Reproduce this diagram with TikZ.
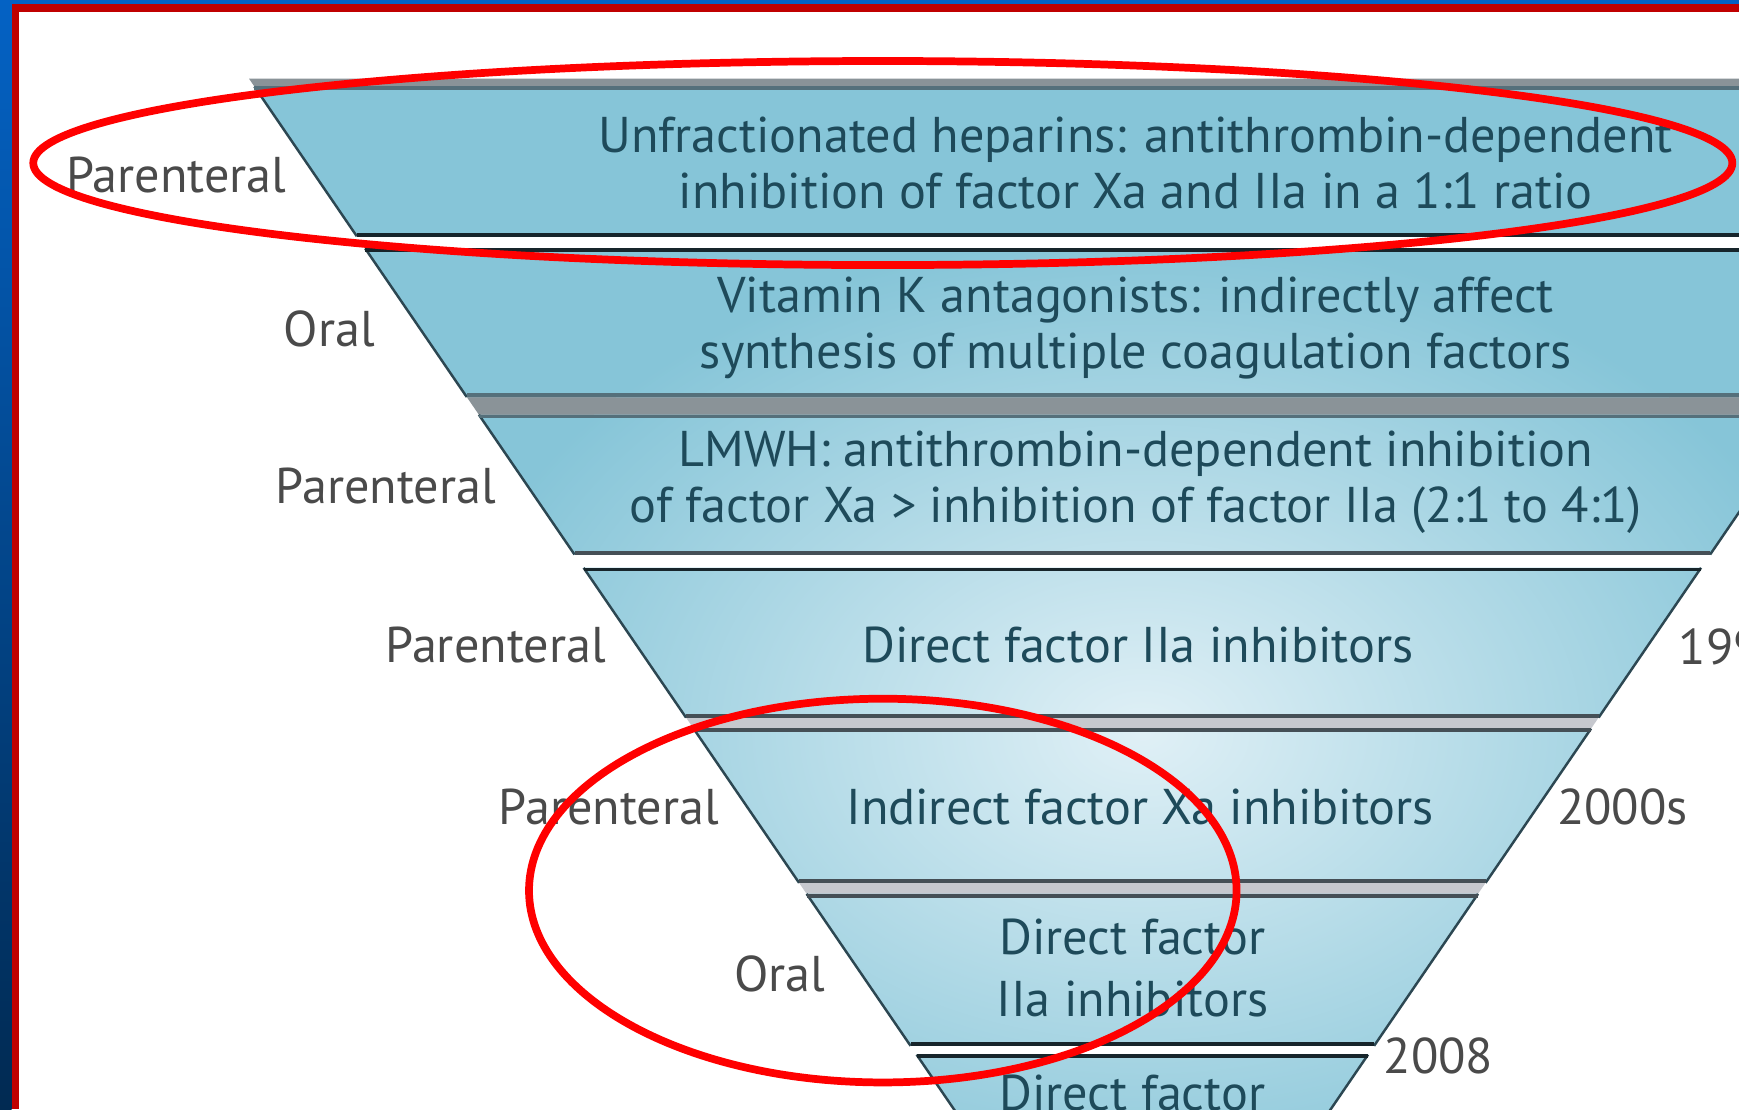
\documentclass[tikz,border=0pt]{standalone}
\usepackage{fontspec}
\setmainfont{PT Sans}
\usepackage{xcolor}
\definecolor{bandout}{HTML}{86C5D8}
\definecolor{bandin}{HTML}{E0F0F6}
\definecolor{bandtext}{HTML}{1E4A5A}
\definecolor{rim}{HTML}{17252B}
\definecolor{rimsoft}{HTML}{55707B}
\definecolor{rimgray}{HTML}{454F56}
\definecolor{sideline}{HTML}{2C4752}
\definecolor{gapgray}{HTML}{8A9398}
\definecolor{gaplight}{HTML}{C6C8CE}
\definecolor{routetext}{HTML}{4A4A4A}
\definecolor{framered}{HTML}{C00000}
\definecolor{slideblue}{HTML}{0462C4}
\definecolor{slidedeep}{HTML}{012A52}
\usepackage{tikz}

% one band of the funnel, top and bottom y given
\newcommand{\bandpath}[2]{({228+0.684*(#1-76)},#1) -- ({1832-0.684*(#1-76)},#1)
  -- ({1832-0.684*(#2-76)},#2) -- ({228+0.684*(#2-76)},#2) -- cycle}

\begin{document}
\begin{tikzpicture}[
  x=0.01109cm, y=-0.01109cm,
  font=\fontsize{14.3}{15.8}\selectfont,
  drug/.style={text=bandtext, align=center, inner sep=0pt},
  route/.style={text=routetext, inner sep=0pt},
  era/.style={text=routetext, inner sep=0pt},
  side/.style={sideline, line width=0.7pt},
  ring/.style={red, line width=2.2pt}
]
  \useasboundingbox (0,0) rectangle (1568,1000);
  \fill[white] (0,0) rectangle (1568,1000);

  \begin{scope}
    \clip (0,0) rectangle (1568,1000);

    % grey gaps
    \fill[gapgray] \bandpath{71}{78};
    \fill[gapgray] \bandpath{358}{374};
    \fill[gaplight] \bandpath{647}{657};
    \fill[gaplight] \bandpath{796}{806};

    % bands
    \begin{scope}
      \clip \bandpath{78}{213} \bandpath{224}{358} \bandpath{374}{500}
        \bandpath{512}{647} \bandpath{657}{796} \bandpath{806}{943}
        \bandpath{951}{1060};
      \fill[bandout] (0,0) rectangle (1568,1000);
      \shade[inner color=bandin, outer color=bandout]
        (1030,660) ellipse (640 and 450);
    \end{scope}

    \foreach \t/\b/\ct/\cb in {78/213/rimsoft/rim, 224/358/rim/rimsoft,
        374/500/rimsoft/rimgray, 512/647/rim/rimgray, 657/796/rimgray/rimgray,
        806/943/rimgray/rim, 951/1060/rim/rim} {
      \draw[side] ({228+0.684*(\t-76)},\t) -- ({228+0.684*(\b-76)},\b);
      \draw[side] ({1832-0.684*(\t-76)},\t) -- ({1832-0.684*(\b-76)},\b);
      \draw[\ct, line width=1.1pt] ({228+0.684*(\t-76)},\t+1.5) -- ({1832-0.684*(\t-76)},\t+1.5);
      \draw[\cb, line width=1.1pt] ({228+0.684*(\b-76)},\b-1.5) -- ({1832-0.684*(\b-76)},\b-1.5);
    }

    % band texts
    \node[drug] (unf) at (1024,147)
      {Unfractionated heparins: antithrombin-dependent\\inhibition of factor Xa and IIa in a 1:1 ratio};
    \node[drug] (vka) at (1024,296)
      {Vitamin K antagonists: indirectly affect\\synthesis of multiple coagulation factors};
    \node[drug] (lmwh) at (1024,435)
      {LMWH: antithrombin-dependent inhibition\\of factor Xa > inhibition of factor IIa (2:1 to 4:1)};
    \node[drug] (dti) at (1026,582) {Direct factor IIa inhibitors};
    \node[drug] (ixa) at (1028,728) {Indirect factor Xa inhibitors};
    \node[drug] (odti) at (1021,873) {Direct factor\\[2pt]IIa inhibitors};
    \node[drug, anchor=north] (oxa) at (1021,969) {Direct factor};

    % routes
    \node[route] (r1) at (159,158) {Parenteral};
    \node[route] (r2) at (297,297) {Oral};
    \node[route] (r3) at (348,438) {Parenteral};
    \node[route] (r4) at (447,582) {Parenteral};
    \node[route] (r5) at (549,728) {Parenteral};
    \node[route] (r6) at (703,878) {Oral};

    % years
    \node[era, anchor=west] (y90) at (1513,583) {1990s};
    \node[era] (y00) at (1463,728) {2000s};
    \node[era] (y08) at (1297,952) {2008};

    % red marks
    \draw[ring] (796,147) ellipse (766 and 92);
    \draw[ring] (796,803) ellipse (319 and 173);

    % slide frame
    \shade[top color=slideblue, bottom color=slidedeep] (0,0) rectangle (10.5,1000);
    \fill[slideblue] (0,0) rectangle (1568,3.5);
    \fill[framered] (10.5,3.5) rectangle (17,1000);
    \fill[framered] (10.5,3.5) rectangle (1568,11);
  \end{scope}
\end{tikzpicture}
\end{document}
